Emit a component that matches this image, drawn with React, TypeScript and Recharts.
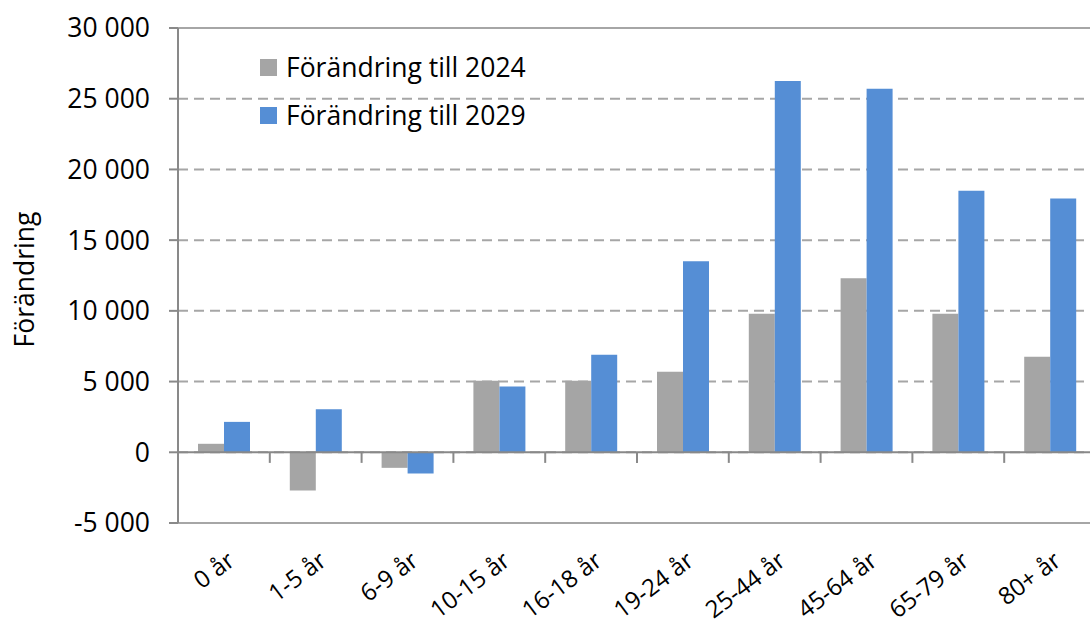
import React from "react";
import {
  BarChart,
  Bar,
  XAxis,
  YAxis,
  CartesianGrid,
  ReferenceLine,
} from "recharts";

const categories = ["0 år", "1-5 år", "6-9 år", "10-15 år", "16-18 år", "19-24 år", "25-44 år", "45-64 år", "65-79 år", "80+ år"];
const change2024 = [600, -2700, -1100, 5050, 5050, 5700, 9800, 12300, 9800, 6750];
const change2029 = [2150, 3050, -1500, 4650, 6900, 13500, 26250, 25700, 18500, 17950];
const yTicks = [-5000, 0, 5000, 10000, 15000, 20000, 25000, 30000];
const seriesNames = ["Förändring till 2024", "Förändring till 2029"];

const data = categories.map((age, i) => ({
  age,
  y2024: change2024[i],
  y2029: change2029[i],
}));

const font = "'Open Sans', sans-serif";
const axisGray = "#898989";
const gridGray = "#a6a6a6";
const barGray = "#a5a5a5";
const barBlue = "#558ed5";
const seriesColors = [barGray, barBlue];

const formatNumber = (v: number) => {
  const s = Math.abs(v).toString().replace(/\B(?=(\d{3})+(?!\d))/g, " ");
  return v < 0 ? `-${s}` : s;
};

// rotated category labels, right end hooked under the band centre
const AgeTick = (props: any) => {
  const { x, y, payload } = props;
  const tx = x + 2;
  const ty = y + 19;
  return (
    <text
      x={tx}
      y={ty}
      dy="0.72em"
      textAnchor="end"
      transform={`rotate(-37 ${tx} ${ty})`}
      fill="#000"
      fontSize={24}
      fontFamily={font}
    >
      {payload.value}
    </text>
  );
};

const LegendBox = () => (
  <div style={{ position: "absolute", left: 260, top: 43, fontFamily: font, fontSize: 26.5, color: "#000", lineHeight: 1 }}>
    {seriesNames.map((name, i) => (
      <div key={name} style={{ display: "flex", alignItems: "center", height: 48 }}>
        <span
          style={{
            display: "inline-block",
            width: 17,
            height: 17,
            background: seriesColors[i],
            marginRight: 9,
          }}
        />
        <span>{name}</span>
      </div>
    ))}
  </div>
);

export default function App() {
  return (
    <div style={{ position: "absolute", left: 0, top: 0, width: 1090, height: 628, overflow: "hidden", background: "#fff" }}>
      <BarChart
        width={1100}
        height={628}
        data={data}
        barSize={26}
        barGap={0}
        margin={{ top: 28, right: 4, bottom: 0, left: 0 }}
      >
        <CartesianGrid vertical={false} stroke={gridGray} strokeWidth={2} strokeDasharray="10 6" />
        <XAxis
          dataKey="age"
          axisLine={false}
          tickLine={false}
          interval={0}
          height={105}
          tick={<AgeTick />}
        />
        <YAxis
          type="number"
          domain={[-5000, 30000]}
          ticks={yTicks}
          width={178}
          tickFormatter={formatNumber}
          axisLine={{ stroke: axisGray, strokeWidth: 2 }}
          tickLine={{ stroke: axisGray, strokeWidth: 2 }}
          tickSize={9}
          tickMargin={19}
          tick={{ fill: "#000", fontSize: 26.5, fontFamily: font }}
          label={{
            content: (p: any) => {
              const vb = p.viewBox || { x: 0, y: 28, height: 495 };
              const cx = vb.x + 24;
              const cy = vb.y + vb.height / 2 + 4;
              return (
                <text
                  x={cx}
                  y={cy}
                  transform={`rotate(-90 ${cx} ${cy})`}
                  textAnchor="middle"
                  dominantBaseline="central"
                  fontSize={26.5}
                  fontFamily={font}
                  fill="#000"
                >
                  Förändring
                </text>
              );
            },
          }}
        />
        <Bar dataKey="y2024" name={seriesNames[0]} fill={barGray} isAnimationActive={false} />
        <Bar dataKey="y2029" name={seriesNames[1]} fill={barBlue} isAnimationActive={false} />
        <ReferenceLine y={30000} stroke={gridGray} strokeWidth={2} />
        <ReferenceLine y={-5000} stroke={gridGray} strokeWidth={2} />
        <ReferenceLine y={0} stroke={axisGray} strokeWidth={2} />
        {categories.map((c) => (
          <ReferenceLine
            key={c}
            segment={[{ x: c, y: 0 }, { x: c, y: -750 }]}
            position="start"
            stroke={axisGray}
            strokeWidth={2}
          />
        ))}
      </BarChart>
      <LegendBox />
    </div>
  );
}
